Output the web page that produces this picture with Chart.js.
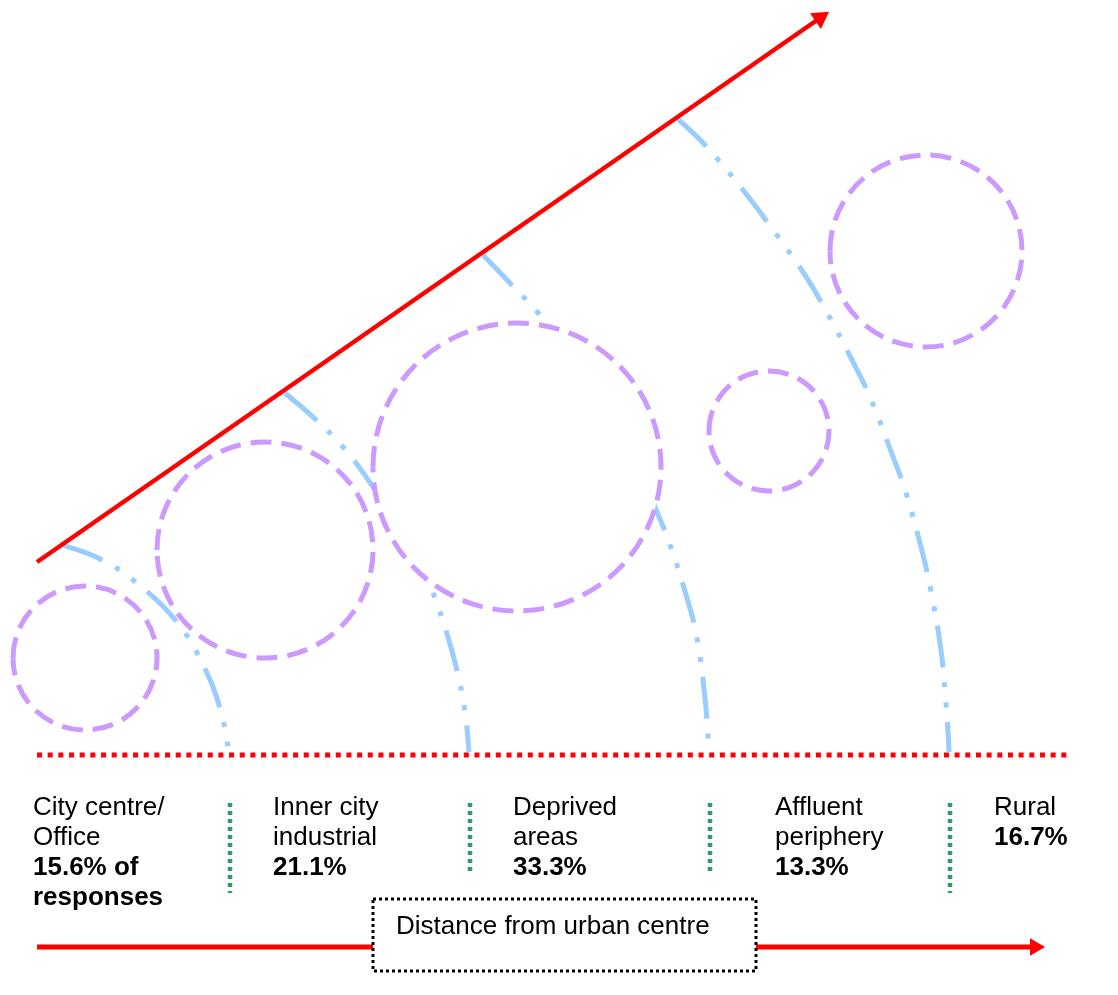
<!DOCTYPE html>
<html>
<head>
<meta charset="utf-8">
<script src="https://cdn.jsdelivr.net/npm/chart.js@4.4.1/dist/chart.umd.min.js"></script>
<style>
    html, body { margin: 0; padding: 0; background: #fff; }
    #wrap { position: relative; width: 1118px; height: 995px; }
</style>
</head>
<body>
<div id="wrap"><canvas id="zoneChart"></canvas></div>
<script>
// Zones along the distance from the urban centre
const zoneNames = [['City centre/', 'Office'], ['Inner city', 'industrial'], ['Deprived', 'areas'], ['Affluent', 'periphery'], ['Rural']];
const zoneShares = [15.6, 21.1, 33.3, 13.3, 16.7];
const axisTitle = 'Distance from urban centre';

// Dashed circles (centre x, centre y, radius)
const circleX = [85, 265, 517, 769, 926];
const circleY = [658, 550, 467, 431, 251];
const circleR = [72, 108, 144, 60, 96];

// Blue boundary arcs
const arc1X = [63, 98, 133, 177, 207, 221, 229];
const arc1Y = [545, 558, 580, 622, 673, 712, 752];
const arc2X = [285, 313, 343, 373, 400, 428, 443, 459, 466, 469];
const arc2Y = [393, 417, 447, 487, 532, 582, 621, 679, 720, 752];
const arc3X = [483, 510, 539, 580, 615, 640, 655, 669, 687, 697, 705, 709];
const arc3Y = [255, 283, 314, 365, 420, 470, 507, 542, 598, 638, 698, 752];
const arc4X = [676, 705, 743, 768, 803, 824, 853, 870, 892, 906, 922, 931, 941, 945, 948, 949];
const arc4Y = [117, 145, 190, 223, 272, 307, 362, 397, 454, 493, 551, 591, 650, 692, 731, 752];

// Straight guides
const trendX = [37, 820];
const trendY = [562, 18];
const baseX = [37, 1068];
const baseY = [755, 755];
const dividerX = [230, 470, 710, 950];
const dividerTop = [803, 803, 803, 803];
const dividerBottom = [893, 872, 872, 893];
const arrowX = [37, 1035];
const arrowY = [947, 947];

// layout of the text underneath
const labelX = [33, 273, 513, 775, 994];
const labelTop = 815;
const lineGap = 30;
const titleBox = { x1: 373, x2: 756, y1: 899, y2: 971, textX: 396, textY: 934 };

const RED = '#FF0000';
const BLUE = '#99CCFF';
const PURPLE = '#CC99FF';
const GREEN = '#339966';
const FONT = '"Liberation Sans", Arial, sans-serif';

const pts = (xs, ys) => xs.map((x, i) => ({ x: x, y: ys[i] }));

const arcStyle = {
    type: 'line',
    borderColor: BLUE,
    borderWidth: 5,
    borderDash: [42, 15, 5, 15, 5, 15],
    pointRadius: 0,
    tension: 0.4,
    fill: false,
    order: 10
};

// trend arrow angle (point style triangle points up at 0deg)
const trendAngle = Math.atan2(trendX[1] - trendX[0], -(trendY[1] - trendY[0])) * 180 / Math.PI;

const datasets = [
    Object.assign({ label: 'arc1', data: pts(arc1X, arc1Y) }, arcStyle),
    Object.assign({ label: 'arc2', data: pts(arc2X, arc2Y) }, arcStyle),
    Object.assign({ label: 'arc3', data: pts(arc3X, arc3Y) }, arcStyle),
    Object.assign({ label: 'arc4', data: pts(arc4X, arc4Y) }, arcStyle),
    {
        type: 'bubble',
        label: 'circles',
        data: circleX.map((x, i) => ({ x: x, y: circleY[i], r: circleR[i] })),
        backgroundColor: '#FFFFFF',
        borderWidth: 0,
        order: 8
    },
    {
        type: 'line',
        label: 'trend',
        data: pts(trendX, trendY),
        borderColor: RED,
        borderWidth: 4.5,
        pointStyle: 'triangle',
        pointRadius: [0, 11],
        pointRotation: [0, trendAngle],
        pointBackgroundColor: RED,
        pointBorderWidth: 0,
        order: 3
    },
    {
        type: 'line',
        label: 'base',
        data: pts(baseX, baseY),
        borderColor: RED,
        borderWidth: 5,
        borderDash: [5, 5.67],
        pointRadius: 0,
        order: 3
    },
    ...dividerX.map((x, i) => ({
        type: 'line',
        label: 'divider' + i,
        data: [{ x: x, y: dividerTop[i] }, { x: x, y: dividerBottom[i] }],
        borderColor: GREEN,
        borderWidth: 4.5,
        borderDash: [4, 4],
        pointRadius: 0,
        order: 3
    })),
    {
        type: 'line',
        label: 'distance',
        data: pts(arrowX, arrowY),
        borderColor: RED,
        borderWidth: 5,
        pointStyle: 'triangle',
        pointRadius: [0, 10],
        pointRotation: [0, 90],
        pointBackgroundColor: RED,
        pointBorderWidth: 0,
        order: 2
    }
];

// dashed outline for the bubbles
const dashedCircles = {
    id: 'dashedCircles',
    afterDatasetDraw(chart, args) {
        if (args.meta.type !== 'bubble') return;
        const ctx = chart.ctx;
        ctx.save();
        ctx.strokeStyle = PURPLE;
        ctx.lineWidth = 5;
        ctx.setLineDash([21, 10]);
        args.meta.data.forEach(el => {
            ctx.beginPath();
            ctx.arc(el.x, el.y, el.options.radius, -Math.PI, Math.PI);
            ctx.stroke();
        });
        ctx.restore();
    }
};

// zone labels and the boxed axis title
const diagramText = {
    id: 'diagramText',
    afterDatasetsDraw(chart) {
        const ctx = chart.ctx;
        const sx = chart.scales.x, sy = chart.scales.y;
        ctx.save();
        ctx.fillStyle = '#000';
        ctx.textBaseline = 'alphabetic';
        ctx.textAlign = 'left';
        zoneNames.forEach((lines, i) => {
            const share = i === 0 ? [zoneShares[i] + '% of', 'responses'] : [zoneShares[i] + '%'];
            const px = sx.getPixelForValue(labelX[i]);
            let row = 0;
            ctx.font = '26px ' + FONT;
            lines.forEach(t => { ctx.fillText(t, px, sy.getPixelForValue(labelTop + lineGap * row)); row++; });
            ctx.font = 'bold 26px ' + FONT;
            share.forEach(t => { ctx.fillText(t, px, sy.getPixelForValue(labelTop + lineGap * row)); row++; });
        });

        const bx1 = sx.getPixelForValue(titleBox.x1), bx2 = sx.getPixelForValue(titleBox.x2);
        const by1 = sy.getPixelForValue(titleBox.y1), by2 = sy.getPixelForValue(titleBox.y2);
        ctx.fillStyle = '#FFFFFF';
        ctx.fillRect(bx1, by1, bx2 - bx1, by2 - by1);
        ctx.strokeStyle = '#000';
        ctx.lineWidth = 3;
        ctx.setLineDash([3, 3]);
        ctx.strokeRect(bx1, by1, bx2 - bx1, by2 - by1);
        ctx.setLineDash([]);
        ctx.fillStyle = '#000';
        ctx.font = '26px ' + FONT;
        ctx.fillText(axisTitle, sx.getPixelForValue(titleBox.textX), sy.getPixelForValue(titleBox.textY));
        ctx.restore();
    }
};

new Chart(document.getElementById('zoneChart'), {
    type: 'line',
    data: { datasets: datasets },
    options: {
        responsive: true,
        maintainAspectRatio: false,
        animation: false,
        events: [],
        layout: { padding: 0, autoPadding: false },
        plugins: {
            legend: { display: false },
            tooltip: { enabled: false }
        },
        scales: {
            x: { type: 'linear', min: 0, max: 1118, display: false },
            y: { type: 'linear', min: 0, max: 995, reverse: true, display: false }
        }
    },
    plugins: [dashedCircles, diagramText]
});
</script>
</body>
</html>
